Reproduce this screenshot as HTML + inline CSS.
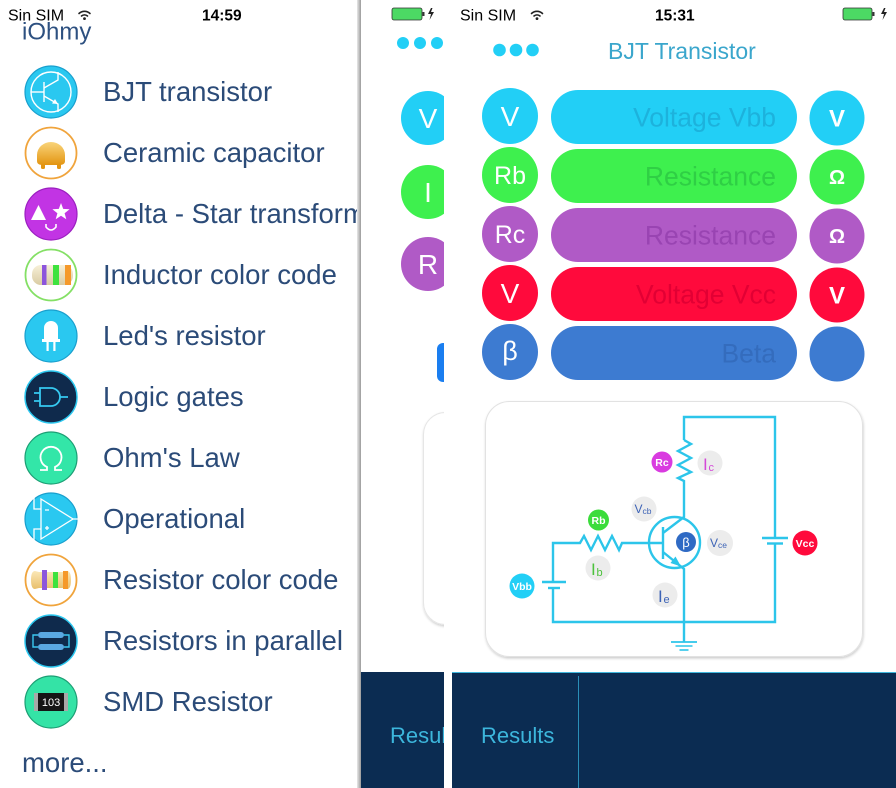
<!DOCTYPE html>
<html><head><meta charset="utf-8">
<style>
html,body{margin:0;padding:0;background:#fff;}
body{width:896px;height:788px;overflow:hidden;position:relative;font-family:"Liberation Sans",sans-serif;}
svg{position:absolute;left:0;top:0;}
</style></head>
<body>
<svg width="896" height="788" viewBox="0 0 896 788" xmlns="http://www.w3.org/2000/svg" font-family="'Liberation Sans', sans-serif">
<defs>
  <clipPath id="midclip"><rect x="361" y="0" width="83" height="788"/></clipPath>
  <clipPath id="leftclip"><rect x="0" y="0" width="358" height="788"/></clipPath>
  <filter id="sh" x="-5%" y="-5%" width="110%" height="115%"><feDropShadow dx="0.5" dy="1.5" stdDeviation="1.4" flood-color="#000" flood-opacity="0.2"/></filter>
  <linearGradient id="cer" x1="0" y1="0" x2="0" y2="1"><stop offset="0" stop-color="#f9d47a"/><stop offset="1" stop-color="#e39512"/></linearGradient>
  <linearGradient id="beige" x1="0" y1="0" x2="0" y2="1"><stop offset="0" stop-color="#f7f0d8"/><stop offset="1" stop-color="#d9cba3"/></linearGradient>
  <linearGradient id="beige2" x1="0" y1="0" x2="0" y2="1"><stop offset="0" stop-color="#fbe7b6"/><stop offset="1" stop-color="#e8bf6c"/></linearGradient>
  <linearGradient id="shadowL" x1="0" y1="0" x2="1" y2="0"><stop offset="0" stop-color="#e8e8e8"/><stop offset="1" stop-color="#9a9a9a"/></linearGradient>
</defs>

<!-- ============ LEFT PANEL ============ -->
<g clip-path="url(#leftclip)">
  <text x="8" y="20.5" font-size="16" fill="#000">Sin SIM</text>
  <g fill="none" stroke="#222" stroke-width="1.6" stroke-linecap="round">
    <path d="M79 13.5 A8 8 0 0 1 90 13.5"/>
    <path d="M81.5 16 A4.6 4.6 0 0 1 87.5 16"/>
  </g>
  <circle cx="84.5" cy="18.6" r="1.4" fill="#222"/>
  <text x="202" y="20.5" font-size="15.5" font-weight="bold" fill="#000">14:59</text>
  <text x="22" y="39.5" font-size="24" fill="#2d5080">iOhmy</text>

  <g font-size="27.5" fill="#2b4b78">
    <text x="103" y="101">BJT transistor</text>
    <text x="103" y="162">Ceramic capacitor</text>
    <text x="103" y="223">Delta - Star transform</text>
    <text x="103" y="284">Inductor color code</text>
    <text x="103" y="345">Led's resistor</text>
    <text x="103" y="406">Logic gates</text>
    <text x="103" y="467">Ohm's Law</text>
    <text x="103" y="528">Operational</text>
    <text x="103" y="589">Resistor color code</text>
    <text x="103" y="650">Resistors in parallel</text>
    <text x="103" y="711">SMD Resistor</text>
    <text x="22" y="772">more...</text>
  </g>

  <!-- icons -->
  <!-- BJT -->
  <g transform="translate(51,92)">
    <circle r="26" fill="#2ac8f0" stroke="#199fcd" stroke-width="1.2"/>
    <g fill="none" stroke="#fff" stroke-width="1.4">
      <circle r="20"/>
      <line x1="-7" y1="-10" x2="-7" y2="10"/>
      <line x1="-20" y1="0" x2="-7" y2="0"/>
      <path d="M-7 -4 L7 -12 L7 -20"/>
      <path d="M-7 4 L7 12 L7 20"/>
    </g>
    <polygon points="7,12 1,11.5 4,7" fill="#fff"/>
  </g>
  <!-- Ceramic -->
  <g transform="translate(51,153)">
    <circle r="25.5" fill="#fff" stroke="#f0a43c" stroke-width="1.8"/>
    <path d="M-14 2 A14 13 0 0 1 14 2 L14 8 Q14 12 8 12 L-8 12 Q-14 12 -14 8 Z" fill="url(#cer)"/>
    <rect x="-10" y="11" width="4" height="5" rx="1.5" fill="#e39512"/>
    <rect x="6" y="11" width="4" height="5" rx="1.5" fill="#e39512"/>
  </g>
  <!-- Delta-Star -->
  <g transform="translate(51,214)">
    <circle r="26" fill="#c234e4" stroke="#9b1fc0" stroke-width="1.2"/>
    <polygon points="-20,6 -12.5,-9 -5,6" fill="#fff"/>
    <polygon points="10,-11 12.2,-5.1 18.6,-4.8 13.6,-0.8 15.3,5.3 10,1.8 4.7,5.3 6.4,-0.8 1.4,-4.8 7.8,-5.1" fill="#fff"/>
    <path d="M-5 10 L-5 13 Q0 19 5 13 L5 10" fill="none" stroke="#fff" stroke-width="1.6"/>
  </g>
  <!-- Inductor -->
  <g transform="translate(51,275)">
    <circle r="25.5" fill="#fff" stroke="#84e065" stroke-width="1.8"/>
    <rect x="-19" y="-10" width="41" height="20" rx="9" fill="url(#beige)"/>
    <rect x="-9" y="-10" width="4.5" height="20" fill="#8c55dc"/>
    <rect x="2" y="-10" width="6" height="20" fill="#3ee23e"/>
    <rect x="14" y="-10" width="6" height="20" fill="#f5992a"/>
  </g>
  <!-- LED -->
  <g transform="translate(51,336)">
    <circle r="26" fill="#2ac8f0" stroke="#199fcd" stroke-width="1.2"/>
    <path d="M-7 4 L-7 -8 A7 7 0 0 1 7 -8 L7 4 Z" fill="#fff"/>
    <rect x="-9" y="3" width="18" height="3" fill="#fff"/>
    <rect x="-4.5" y="6" width="2.2" height="9" fill="#fff"/>
    <rect x="2.3" y="6" width="2.2" height="9" fill="#fff"/>
  </g>
  <!-- Logic -->
  <g transform="translate(51,397)">
    <circle r="26" fill="#0f2a4c" stroke="#2cc8f0" stroke-width="1.5"/>
    <g fill="none" stroke="#36c9f0" stroke-width="1.8">
      <path d="M-11 -9 H0 A9 9 0 0 1 0 9 H-11 Z"/>
      <path d="M-17 -4 H-11 M-17 4 H-11 M9 0 H17"/>
    </g>
  </g>
  <!-- Ohm -->
  <g transform="translate(51,458)">
    <circle r="26" fill="#33e6a8" stroke="#1c9e74" stroke-width="1.2"/>
    <path d="M-11 12 H-4 V9 A10.5 10.5 0 1 1 4 9 V12 H11" fill="none" stroke="#fff" stroke-width="1.8"/>
  </g>
  <!-- Operational -->
  <g transform="translate(51,519)">
    <circle r="26" fill="#2ac8f0" stroke="#199fcd" stroke-width="1.2"/>
    <g fill="none" stroke="#fff" stroke-width="1.3">
      <path d="M-10 -20 L22 0 L-10 20 Z"/>
      <path d="M-17 -22 V-10 H-10 M-17 22 V10 H-10 M22 0 H27"/>
      <path d="M-6 -9 H-2 M-6 9 H-2 M-4 7 V11"/>
    </g>
  </g>
  <!-- Resistor color code -->
  <g transform="translate(51,580)">
    <circle r="25.5" fill="#fff" stroke="#f0a43c" stroke-width="1.8"/>
    <path d="M-16 -9 Q-20 -9 -20 0 Q-20 9 -16 9 L-12 8 H12 L16 9 Q20 9 20 0 Q20 -9 16 -9 L12 -8 H-12 Z" fill="url(#beige2)"/>
    <rect x="-9" y="-10" width="5" height="20" fill="#8c55dc"/>
    <rect x="2" y="-8" width="5" height="16" fill="#3ee23e"/>
    <rect x="12" y="-9" width="5" height="18" fill="#f5992a"/>
  </g>
  <!-- Parallel -->
  <g transform="translate(51,641)">
    <circle r="26" fill="#0f2a4c" stroke="#2cc8f0" stroke-width="1.5"/>
    <path d="M-13 -6 H-18 V6 H-13 M13 -6 H18 V6 H13" fill="none" stroke="#3ac8f0" stroke-width="1.4"/>
    <rect x="-13" y="-9" width="26" height="6" rx="3" fill="#5aa8e2"/>
    <rect x="-13" y="3" width="26" height="6" rx="3" fill="#5aa8e2"/>
  </g>
  <!-- SMD -->
  <g transform="translate(51,702)">
    <circle r="26" fill="#34e3a6" stroke="#1c9e74" stroke-width="1.2"/>
    <rect x="-17" y="-9" width="34" height="18" fill="#a8a8a8"/>
    <rect x="-13" y="-9" width="26" height="18" fill="#151515"/>
    <text x="0" y="4" font-size="11" fill="#fff" text-anchor="middle">103</text>
  </g>
</g>
<rect x="357" y="0" width="4" height="788" fill="url(#shadowL)"/>

<!-- ============ MIDDLE PANEL ============ -->
<g clip-path="url(#midclip)">
  <rect x="392" y="8" width="30" height="12" rx="2" fill="#4cd964" stroke="#333" stroke-width="0.8"/>
  <rect x="422.5" y="12" width="2" height="4" fill="#333"/>
  <path d="M431 8 L428 14 H431 L429.5 20 L434 12 H431 L432.5 8 Z" fill="#222"/>
  <circle cx="403" cy="43" r="6" fill="#22cff6"/>
  <circle cx="420" cy="43" r="6" fill="#22cff6"/>
  <circle cx="437" cy="43" r="6" fill="#22cff6"/>
  <circle cx="428" cy="118" r="27" fill="#22cff6"/>
  <text x="428" y="128" font-size="28" fill="#fff" text-anchor="middle">V</text>
  <circle cx="428" cy="192" r="27" fill="#3ef04e"/>
  <text x="428" y="202" font-size="28" fill="#fff" text-anchor="middle">I</text>
  <circle cx="428" cy="264" r="27" fill="#b05ac6"/>
  <text x="428" y="274" font-size="28" fill="#fff" text-anchor="middle">R</text>
  <rect x="437" y="343" width="20" height="39" rx="6" fill="#1a7ef0"/>
  <rect x="423.5" y="412.5" width="80" height="212" rx="22" fill="#fff" stroke="#e6e6e6" filter="url(#sh)"/>
  <rect x="361" y="672" width="83" height="116" fill="#0b2c52"/>
  <text x="390" y="743" font-size="22" fill="#3cb6dc">Results</text>
</g>

<!-- ============ RIGHT PANEL ============ -->
<text x="460" y="20.5" font-size="16" fill="#000">Sin SIM</text>
<g fill="none" stroke="#222" stroke-width="1.6" stroke-linecap="round">
  <path d="M531.5 13.5 A8 8 0 0 1 542.5 13.5"/>
  <path d="M534 16 A4.6 4.6 0 0 1 540 16"/>
</g>
<circle cx="537" cy="18.6" r="1.4" fill="#222"/>
<text x="655" y="20.5" font-size="15.5" font-weight="bold" fill="#000">15:31</text>
<rect x="843" y="8" width="29" height="12" rx="2" fill="#4cd964" stroke="#333" stroke-width="0.8"/>
<rect x="872.5" y="12" width="2" height="4" fill="#333"/>
<path d="M884 8 L881 14 H884 L882.5 20 L887 12 H884 L885.5 8 Z" fill="#222"/>

<circle cx="499.5" cy="50" r="6.3" fill="#22cff6"/>
<circle cx="516" cy="50" r="6.3" fill="#22cff6"/>
<circle cx="532.5" cy="50" r="6.3" fill="#22cff6"/>
<text x="608" y="59" font-size="23" fill="#3aa6cc">BJT Transistor</text>

<!-- rows -->
<g>
  <circle cx="510" cy="116" r="28" fill="#22cff6"/>
  <text x="510" y="126" font-size="28" fill="#fff" text-anchor="middle">V</text>
  <rect x="551" y="90" width="246" height="54" rx="27" fill="#22cff6"/>
  <text x="776" y="126.5" font-size="26.5" fill="#1db2dc" text-anchor="end">Voltage Vbb</text>
  <circle cx="837" cy="118" r="27.5" fill="#22cff6"/>
  <text x="837" y="126.5" font-size="24" font-weight="bold" fill="#fff" text-anchor="middle">V</text>

  <circle cx="510" cy="175" r="28" fill="#3ef04e"/>
  <text x="510" y="184" font-size="25" fill="#fff" text-anchor="middle">Rb</text>
  <rect x="551" y="149" width="246" height="54" rx="27" fill="#3ef04e"/>
  <text x="776" y="185.5" font-size="26.5" fill="#2fcf45" text-anchor="end">Resistance</text>
  <circle cx="837" cy="177" r="27.5" fill="#3ef04e"/>
  <text x="837" y="184" font-size="20" font-weight="bold" fill="#fff" text-anchor="middle">Ω</text>

  <circle cx="510" cy="234" r="28" fill="#b05ac6"/>
  <text x="510" y="243" font-size="25" fill="#fff" text-anchor="middle">Rc</text>
  <rect x="551" y="208" width="246" height="54" rx="27" fill="#b05ac6"/>
  <text x="776" y="244.5" font-size="26.5" fill="#9944b2" text-anchor="end">Resistance</text>
  <circle cx="837" cy="236" r="27.5" fill="#b05ac6"/>
  <text x="837" y="243" font-size="20" font-weight="bold" fill="#fff" text-anchor="middle">Ω</text>

  <circle cx="510" cy="293" r="28" fill="#ff0a3c"/>
  <text x="510" y="303" font-size="28" fill="#fff" text-anchor="middle">V</text>
  <rect x="551" y="267" width="246" height="54" rx="27" fill="#ff0a3c"/>
  <text x="776" y="303.5" font-size="26.5" fill="#e20034" text-anchor="end">Voltage Vcc</text>
  <circle cx="837" cy="295" r="27.5" fill="#ff0a3c"/>
  <text x="837" y="303.5" font-size="24" font-weight="bold" fill="#fff" text-anchor="middle">V</text>

  <circle cx="510" cy="352" r="28" fill="#3d7bd1"/>
  <text x="510" y="360" font-size="27" fill="#fff" text-anchor="middle">β</text>
  <rect x="551" y="326" width="246" height="54" rx="27" fill="#3d7bd1"/>
  <text x="776" y="362.5" font-size="26.5" fill="#346cbd" text-anchor="end">Beta</text>
  <circle cx="837" cy="354" r="27.5" fill="#3d7bd1"/>
</g>

<!-- circuit card -->
<rect x="485.5" y="401.5" width="377" height="255" rx="24" fill="#fff" stroke="#e2e2e2" filter="url(#sh)"/>
<g fill="none" stroke="#2cc5ea" stroke-width="2.4" stroke-linejoin="miter">
  <path d="M684 440 V417 H775 V538"/>
  <path d="M775 543 V622 H553 V588"/>
  <path d="M553 582 V543 H580 L584 536 L591 550 L598 536 L605 550 L612 536 L619 550 L622 543 H663"/>
  <path d="M684 440 L691 444 L678 451 L691 458 L678 465 L691 472 L678 478 L684 481 V517 L663 533"/>
  <path d="M663 527 V559"/>
  <path d="M663 552 L684 569 V642"/>
  <circle cx="674.5" cy="542.5" r="25.5"/>
  <path d="M762 538 H788"/>
  <path d="M767 543.5 H783" />
  <path d="M542 582 H566"/>
  <path d="M548 588 H560"/>
  <path d="M671 642 H697" stroke-width="1.8"/>
  <path d="M675.5 646 H692.5" stroke-width="1.6"/>
  <path d="M679.5 650 H688.5" stroke-width="1.6"/>
</g>
<polygon points="681,566.5 670.5,563 675.5,556.5" fill="#2cc5ea"/>

<!-- circuit labels -->
<g font-family="'Liberation Sans', sans-serif">
  <circle cx="662" cy="462" r="10.5" fill="#d93be0"/>
  <text x="662" y="466" font-size="10.5" font-weight="bold" fill="#fff" text-anchor="middle">Rc</text>
  <circle cx="710" cy="463" r="12.5" fill="#ececec"/>
  <text x="703" y="470" font-size="17" fill="#d44ad8">I</text>
  <text x="708.5" y="471" font-size="11" fill="#d44ad8">c</text>

  <circle cx="644" cy="509" r="12.5" fill="#ececec"/>
  <text x="634.5" y="513" font-size="12" fill="#3d63b6">V</text>
  <text x="642.5" y="514" font-size="8.5" fill="#3d63b6">cb</text>

  <circle cx="598.5" cy="520" r="10.5" fill="#3bdc3b"/>
  <text x="598.5" y="524" font-size="10.5" font-weight="bold" fill="#fff" text-anchor="middle">Rb</text>
  <circle cx="598" cy="568" r="12.5" fill="#ececec"/>
  <text x="591" y="575" font-size="17" fill="#4cc23c">I</text>
  <text x="596.5" y="576" font-size="11" fill="#4cc23c">b</text>

  <circle cx="686" cy="542" r="10" fill="#2f6ac4"/>
  <text x="686" y="547" font-size="13" fill="#fff" text-anchor="middle">β</text>

  <circle cx="720" cy="543" r="13" fill="#ececec"/>
  <text x="710" y="547" font-size="12" fill="#3d63b6">V</text>
  <text x="718" y="548" font-size="8.5" fill="#3d63b6">ce</text>

  <circle cx="805" cy="543" r="12.5" fill="#ff0a3c"/>
  <text x="805" y="547" font-size="10.5" font-weight="bold" fill="#fff" text-anchor="middle">Vcc</text>

  <circle cx="522" cy="586" r="12.5" fill="#22cff6"/>
  <text x="522" y="590" font-size="10.5" font-weight="bold" fill="#fff" text-anchor="middle">Vbb</text>

  <circle cx="665" cy="595" r="12.5" fill="#ececec"/>
  <text x="658" y="602" font-size="17" fill="#3d63b6">I</text>
  <text x="663.5" y="603" font-size="11" fill="#3d63b6">e</text>
</g>

<!-- bottom bar -->
<rect x="452" y="672" width="444" height="116" fill="#0b2c52"/>
<line x1="452" y1="672.5" x2="896" y2="672.5" stroke="#3fb7dd" stroke-width="1"/>
<line x1="578.5" y1="676" x2="578.5" y2="788" stroke="#2a8fb8" stroke-width="1"/>
<text x="481" y="743" font-size="22" fill="#3cb6dc">Results</text>
</svg>
</body></html>
